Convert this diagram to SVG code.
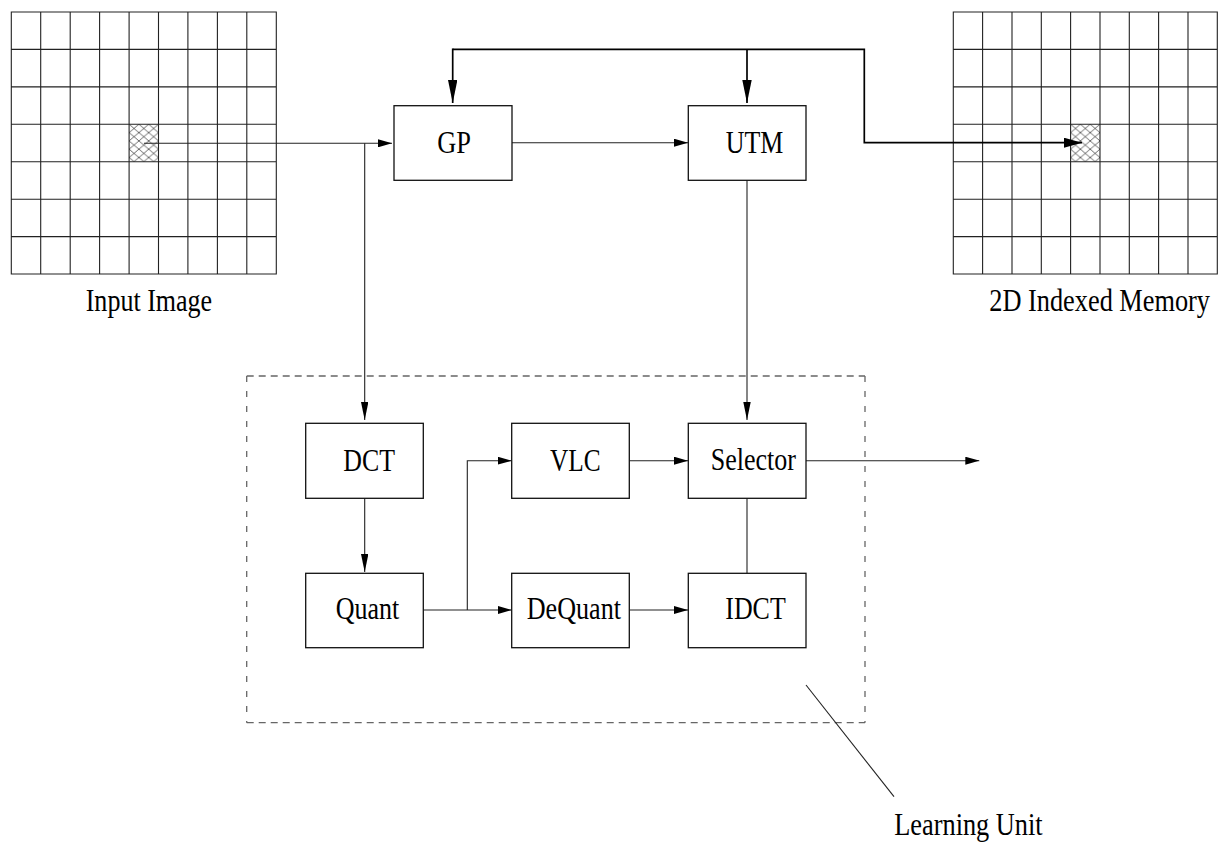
<svg xmlns="http://www.w3.org/2000/svg" width="1229" height="846" viewBox="0 0 1229 846">
  <style>
    .box { fill: #fff; stroke: #111; stroke-width: 1.3; }
    .grid { fill: none; stroke: #222; stroke-width: 1.1; }
    .wire { fill: none; stroke: #222; stroke-width: 1.1; }
    .bus { fill: none; stroke: #000; stroke-width: 1.7; }
    .lbl { font-family: "Liberation Serif", "Times New Roman", serif; font-size: 32.5px; fill: #000; }
    .dash-h { stroke: #666; stroke-width: 1.3; stroke-dasharray: 7 5; }
    .dash-v { stroke: #666; stroke-width: 1.3; stroke-dasharray: 6 9; }
  </style>
  <defs>
    <pattern id="hatch" patternUnits="userSpaceOnUse" x="129.1" y="124.3" width="9.8" height="8.3">
      <path d="M0 0 L9.8 8.3 M9.8 0 L0 8.3" stroke="#444" stroke-width="0.8" fill="none"/>
    </pattern>
    <pattern id="hatchR" patternUnits="userSpaceOnUse" x="1070.6" y="124.3" width="9.8" height="8.3">
      <path d="M0 0 L9.8 8.3 M9.8 0 L0 8.3" stroke="#444" stroke-width="0.8" fill="none"/>
    </pattern>
    <!-- arrowheads: figure is drawn taller than wide, so vertical heads are longer -->
    <marker id="ahH" markerUnits="userSpaceOnUse" markerWidth="14" markerHeight="8" refX="14" refY="4" orient="auto">
      <path d="M0 0 L14 4 L0 8 Z" fill="#000"/>
    </marker>
    <marker id="ahV" markerUnits="userSpaceOnUse" markerWidth="18" markerHeight="7.4" refX="18" refY="3.7" orient="auto">
      <path d="M0 0 L18 3.7 L0 7.4 Z" fill="#000"/>
    </marker>
    <marker id="ahHB" markerUnits="userSpaceOnUse" markerWidth="18" markerHeight="10" refX="18" refY="5" orient="auto">
      <path d="M0 0 L18 5 L0 10 Z" fill="#000"/>
    </marker>
    <marker id="ahVB" markerUnits="userSpaceOnUse" markerWidth="23" markerHeight="9.4" refX="23" refY="4.7" orient="auto">
      <path d="M0 0 L23 4.7 L0 9.4 Z" fill="#000"/>
    </marker>
  </defs>

  <rect width="1229" height="846" fill="#fff"/>

  <!-- input image: 9 x 7 block grid -->
  <g id="input-image">
    <rect x="129.1" y="124.3" width="29.4" height="37.4" fill="url(#hatch)"/>
    <path class="grid" d="M11.3 12 H276.3 V274 H11.3 Z
      M40.7 12 V274 M70.2 12 V274 M99.6 12 V274 M129.1 12 V274 M158.5 12 V274 M187.9 12 V274 M217.4 12 V274 M246.8 12 V274
      M11.3 49.4 H276.3 M11.3 86.9 H276.3 M11.3 124.3 H276.3 M11.3 161.7 H276.3 M11.3 199.2 H276.3 M11.3 236.6 H276.3"/>
    <text class="lbl" transform="translate(85.7 311) scale(0.801 1)">Input Image</text>
  </g>

  <!-- 2D indexed memory -->
  <g id="indexed-memory">
    <rect x="1070.6" y="124.3" width="29.4" height="37.4" fill="url(#hatchR)"/>
    <path class="grid" d="M953.3 12 H1217.3 V274 H953.3 Z
      M982.6 12 V274 M1012 12 V274 M1041.3 12 V274 M1070.6 12 V274 M1100 12 V274 M1129.3 12 V274 M1158.6 12 V274 M1188 12 V274
      M953.3 49.4 H1217.3 M953.3 86.9 H1217.3 M953.3 124.3 H1217.3 M953.3 161.7 H1217.3 M953.3 199.2 H1217.3 M953.3 236.6 H1217.3"/>
    <text class="lbl" transform="translate(989.3 311) scale(0.81 1)">2D Indexed Memory</text>
  </g>

  <!-- learning unit boundary -->
  <g id="learning-unit">
    <line class="dash-h" x1="246.7" y1="376" x2="865" y2="376"/>
    <line class="dash-h" x1="246.7" y1="722.7" x2="865" y2="722.7"/>
    <line class="dash-v" x1="246.7" y1="376" x2="246.7" y2="722.7"/>
    <line class="dash-v" x1="865" y1="376" x2="865" y2="722.7"/>
    <line class="wire" x1="806" y1="685" x2="894" y2="796.7"/>
    <text class="lbl" transform="translate(894.3 835) scale(0.81 1)">Learning Unit</text>
  </g>

  <!-- connectors -->
  <g id="connectors">
    <path class="wire" d="M144 143.3 H392" marker-end="url(#ahH)"/>
    <path class="wire" d="M364.7 143.3 V420" marker-end="url(#ahV)"/>
    <path class="wire" d="M512 142.7 H688" marker-end="url(#ahH)"/>
    <path class="wire" d="M747 180.3 V420" marker-end="url(#ahV)"/>
    <path class="wire" d="M364.7 498.3 V572" marker-end="url(#ahV)"/>
    <path class="wire" d="M423.3 610 H511.7" marker-end="url(#ahH)"/>
    <path class="wire" d="M467.3 610 V460.7 H511.7" marker-end="url(#ahH)"/>
    <path class="wire" d="M629.3 460.7 H688" marker-end="url(#ahH)"/>
    <path class="wire" d="M629.3 610 H688" marker-end="url(#ahH)"/>
    <path class="wire" d="M806 460.7 H979.3" marker-end="url(#ahH)"/>
    <path class="wire" d="M747 498.3 V573.3"/>
    <!-- feedback bus: back to GP, to UTM and into the memory block -->
    <path class="bus" d="M452.7 49.3 H864.3 V142.7 H1082" marker-end="url(#ahHB)"/>
    <path class="bus" d="M452.7 48.5 V103" marker-end="url(#ahVB)"/>
    <path class="bus" stroke-width="2.2" d="M747 49.3 V103" marker-end="url(#ahVB)"/>
  </g>

  <!-- processing blocks -->
  <g id="gp">
    <rect class="box" x="394" y="105.7" width="118" height="74.6"/>
    <text class="lbl" transform="translate(437.3 153.3) scale(0.812 1)">GP</text>
  </g>
  <g id="utm">
    <rect class="box" x="688.3" y="105.7" width="117.7" height="74.6"/>
    <text class="lbl" transform="translate(725.7 153.3) scale(0.798 1)">UTM</text>
  </g>
  <g id="dct">
    <rect class="box" x="305.7" y="423.3" width="117.6" height="75"/>
    <text class="lbl" transform="translate(343.3 470.7) scale(0.795 1)">DCT</text>
  </g>
  <g id="vlc">
    <rect class="box" x="511.7" y="423.3" width="117.6" height="75"/>
    <text class="lbl" transform="translate(550 470.7) scale(0.78 1)">VLC</text>
  </g>
  <g id="selector">
    <rect class="box" x="688.3" y="423.3" width="117.7" height="75"/>
    <text class="lbl" transform="translate(710.7 470.3) scale(0.801 1)">Selector</text>
  </g>
  <g id="quant">
    <rect class="box" x="305.7" y="573.3" width="117.6" height="74.4"/>
    <text class="lbl" transform="translate(335.7 619.3) scale(0.801 1)">Quant</text>
  </g>
  <g id="dequant">
    <rect class="box" x="511.7" y="573.3" width="117.6" height="74.4"/>
    <text class="lbl" transform="translate(526.7 619.3) scale(0.804 1)">DeQuant</text>
  </g>
  <g id="idct">
    <rect class="box" x="688.3" y="573.3" width="117.7" height="74.4"/>
    <text class="lbl" transform="translate(725.3 619.3) scale(0.797 1)">IDCT</text>
  </g>
</svg>
